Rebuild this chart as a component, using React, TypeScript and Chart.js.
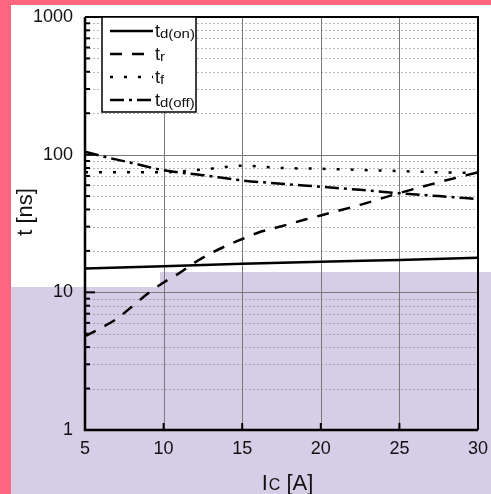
import React, { useEffect, useRef } from 'react';
import { Chart, registerables } from 'chart.js';
Chart.register(...registerables);

const FONT = "'Liberation Sans', Arial, sans-serif";

// X-axis: collector current Ic [A]; Y-axis: switching time t [ns]
const xTicks = [5, 10, 15, 20, 25, 30];
const yTicks = [1, 10, 100, 1000];

const tdOnX = [5, 10, 15, 20, 25, 30];
const tdOn = [14.9, 15.5, 16.1, 16.7, 17.2, 17.8];

const trX = [5, 6, 7, 8, 9, 10, 11, 12, 13, 14, 15, 16, 17.5, 19, 20, 22.5, 25, 27.5, 30];
const tr = [4.8, 5.5, 6.4, 7.9, 9.8, 11.8, 13.8, 16.5, 19.2, 21.8, 24.4, 27.1, 30.2, 33.8, 36.2, 43.2, 52.6, 63, 74.5];

const tfX = [5, 7.5, 10, 12.5, 15, 17.5, 20, 22.5, 25, 27.5, 30];
const tf = [74.5, 74.5, 74.5, 78, 83, 80, 79, 77.5, 76, 74.5, 73.5];

const tdOffX = [5, 6.5, 8, 10, 12.5, 15, 17.5, 20, 22.5, 25, 27.5, 30];
const tdOff = [105, 95, 87, 77, 71, 65, 61.5, 58.5, 55.5, 52.5, 50, 47.6];

const seriesNames = ['d(on)', 'r', 'f', 'd(off)'];
const dashes: number[][] = [[], [12, 10], [3, 11], [14, 5, 3, 5]];

const pts = (xs: number[], ys: number[]) => xs.map((x, i) => ({ x, y: ys[i] }));

export default function App() {
  const ref = useRef<HTMLCanvasElement>(null);
  useEffect(() => {
    document.body.style.margin = '0';
    const canvas = ref.current!;
    const bgPlugin = {
      id: 'bg',
      beforeDraw(chart: any) {
        const ctx = chart.ctx;
        ctx.save();
        ctx.fillStyle = '#ffffff';
        ctx.fillRect(0, 0, chart.width, chart.height);
        ctx.fillStyle = 'rgb(214,205,230)';
        ctx.fillRect(0, 287, chart.width, chart.height - 287);
        ctx.fillRect(160, 272, chart.width - 160, 16);
        ctx.fillStyle = 'rgb(255,103,128)';
        ctx.fillRect(0, 0, 11, chart.height);
        ctx.fillRect(0, 0, chart.width, 5);
        ctx.restore();
      },
      beforeDatasetsDraw(chart: any) {
        const ctx = chart.ctx;
        const { left, right, top, bottom } = chart.chartArea;
        const xs = chart.scales.x;
        const ys = chart.scales.y;
        ctx.save();
        // minor dotted horizontal grid
        ctx.lineWidth = 1;
        ctx.strokeStyle = 'rgba(120,120,120,0.55)';
        ctx.setLineDash([2, 2]);
        for (let d = 1; d < 1000; d *= 10) {
          for (let m = 2; m <= 9; m++) {
            const y = Math.round(ys.getPixelForValue(d * m)) + 0.5;
            ctx.beginPath();
            ctx.moveTo(left, y);
            ctx.lineTo(right, y);
            ctx.stroke();
          }
        }
        ctx.setLineDash([]);
        ctx.strokeStyle = '#7a7a7a';
        for (const v of [10, 100]) {
          const y = Math.round(ys.getPixelForValue(v)) + 0.5;
          ctx.beginPath();
          ctx.moveTo(left, y);
          ctx.lineTo(right, y);
          ctx.stroke();
        }
        for (const v of xTicks.slice(1, -1)) {
          const x = Math.round(xs.getPixelForValue(v)) + 0.5;
          ctx.beginPath();
          ctx.moveTo(x, top);
          ctx.lineTo(x, bottom);
          ctx.stroke();
        }
        ctx.restore();
      },
      afterDatasetsDraw(chart: any) {
        const ctx = chart.ctx;
        const { left, right, top, bottom } = chart.chartArea;
        const xs = chart.scales.x;
        const ys = chart.scales.y;
        ctx.save();
        ctx.strokeStyle = '#000';
        // ticks
        ctx.lineWidth = 2;
        for (let d = 1; d < 1000; d *= 10) {
          for (let m = 1; m <= 9; m++) {
            const y = ys.getPixelForValue(d * m);
            const len = m === 1 ? 10 : 5;
            ctx.beginPath();
            ctx.moveTo(left, y);
            ctx.lineTo(left + len, y);
            ctx.stroke();
          }
        }
        for (const v of xTicks.slice(1, -1)) {
          const x = xs.getPixelForValue(v);
          ctx.beginPath();
          ctx.moveTo(x, bottom);
          ctx.lineTo(x, bottom - 7);
          ctx.stroke();
        }
        // frame
        ctx.lineWidth = 2.5;
        ctx.beginPath();
        ctx.moveTo(left, top);
        ctx.lineTo(left, bottom);
        ctx.lineTo(right, bottom);
        ctx.stroke();
        ctx.lineWidth = 2;
        ctx.beginPath();
        ctx.moveTo(left, top);
        ctx.lineTo(right, top);
        ctx.lineTo(right, bottom);
        ctx.stroke();
        ctx.restore();
      },
      afterDraw(chart: any) {
        const ctx = chart.ctx;
        ctx.save();
        ctx.fillStyle = '#111';
        // y title
        ctx.translate(26, 212);
        ctx.rotate(-Math.PI / 2);
        ctx.font = `22px ${FONT}`;
        ctx.textAlign = 'center';
        ctx.textBaseline = 'middle';
        ctx.fillText('t [ns]', 0, 0);
        ctx.setTransform(1, 0, 0, 1, 0, 0);
        // x title with subscript
        ctx.textAlign = 'left';
        ctx.textBaseline = 'alphabetic';
        const big = `22px ${FONT}`;
        const small = `16px ${FONT}`;
        ctx.font = big;
        const wI = ctx.measureText('I').width;
        const wRest = ctx.measureText(' [A]').width;
        ctx.font = small;
        const wC = ctx.measureText('C').width;
        let x0 = 287 - (wI + wC + wRest) / 2;
        const by = 490;
        ctx.font = big;
        ctx.fillText('I', x0, by);
        x0 += wI + 1;
        ctx.font = small;
        ctx.fillText('C', x0, by);
        x0 += wC;
        ctx.font = big;
        ctx.fillText(' [A]', x0, by);
        // legend
        const lx = 102, ly = 17, lw = 94, lh = 95;
        ctx.fillStyle = '#fff';
        ctx.fillRect(lx, ly, lw, lh);
        ctx.strokeStyle = '#000';
        ctx.lineWidth = 1.5;
        ctx.strokeRect(lx, ly, lw, lh);
        const rows = [31, 54, 77, 100];
        rows.forEach((ry, i) => {
          ctx.lineWidth = 2.5;
          ctx.setLineDash(dashes[i]);
          ctx.beginPath();
          ctx.moveTo(110, ry);
          ctx.lineTo(153, ry);
          ctx.stroke();
          ctx.setLineDash([]);
          ctx.fillStyle = '#111';
          ctx.font = `18px ${FONT}`;
          ctx.fillText('t', 155, ry + 6);
          const tw = ctx.measureText('t').width;
          ctx.save();
          ctx.translate(155 + tw, ry + 7);
          ctx.scale(1.15, 1);
          ctx.font = `13px ${FONT}`;
          ctx.fillText(seriesNames[i], 0, 0);
          ctx.restore();
        });
        ctx.restore();
      },
    };

    const mk = (label: string, data: any[], dash: number[]) => ({
      label,
      data,
      borderColor: '#000',
      borderWidth: 2.5,
      borderDash: dash,
      pointRadius: 0,
      fill: false,
      cubicInterpolationMode: 'monotone' as const,
    });

    const chart = new Chart(canvas, {
      type: 'line',
      data: {
        datasets: [
          mk('td(on)', pts(tdOnX, tdOn), dashes[0]),
          mk('tr', pts(trX, tr), dashes[1]),
          mk('tf', pts(tfX, tf), dashes[2]),
          mk('td(off)', pts(tdOffX, tdOff), dashes[3]),
        ],
      },
      options: {
        animation: false,
        responsive: false,
        devicePixelRatio: 1,
        layout: { padding: { top: 17, right: 13, left: 0, bottom: 0 } },
        plugins: { legend: { display: false }, tooltip: { enabled: false } },
        scales: {
          x: {
            type: 'linear',
            min: 5,
            max: 30,
            grid: { display: false, drawTicks: false },
            border: { display: false },
            afterBuildTicks: (s: any) => {
              s.ticks = xTicks.map((v) => ({ value: v }));
            },
            afterFit: (s: any) => {
              s.height = 64;
              s.paddingLeft = 0;
              s.paddingRight = 0;
            },
            ticks: { font: { size: 18, family: FONT }, color: '#111', padding: 8, maxRotation: 0 },
          },
          y: {
            type: 'logarithmic',
            min: 1,
            max: 1000,
            grid: { display: false, drawTicks: false },
            border: { display: false },
            afterBuildTicks: (s: any) => {
              s.ticks = yTicks.map((v) => ({ value: v }));
            },
            afterFit: (s: any) => {
              s.width = 85;
              s.paddingTop = 0;
              s.paddingBottom = 0;
            },
            ticks: {
              font: { size: 18, family: FONT },
              color: '#111',
              padding: 12,
              autoSkip: false,
              callback: (v: any) => String(v),
            },
          },
        },
      },
      plugins: [bgPlugin],
    });
    return () => chart.destroy();
  }, []);
  return <canvas ref={ref} width={491} height={494} style={{ display: 'block' }} />;
}
